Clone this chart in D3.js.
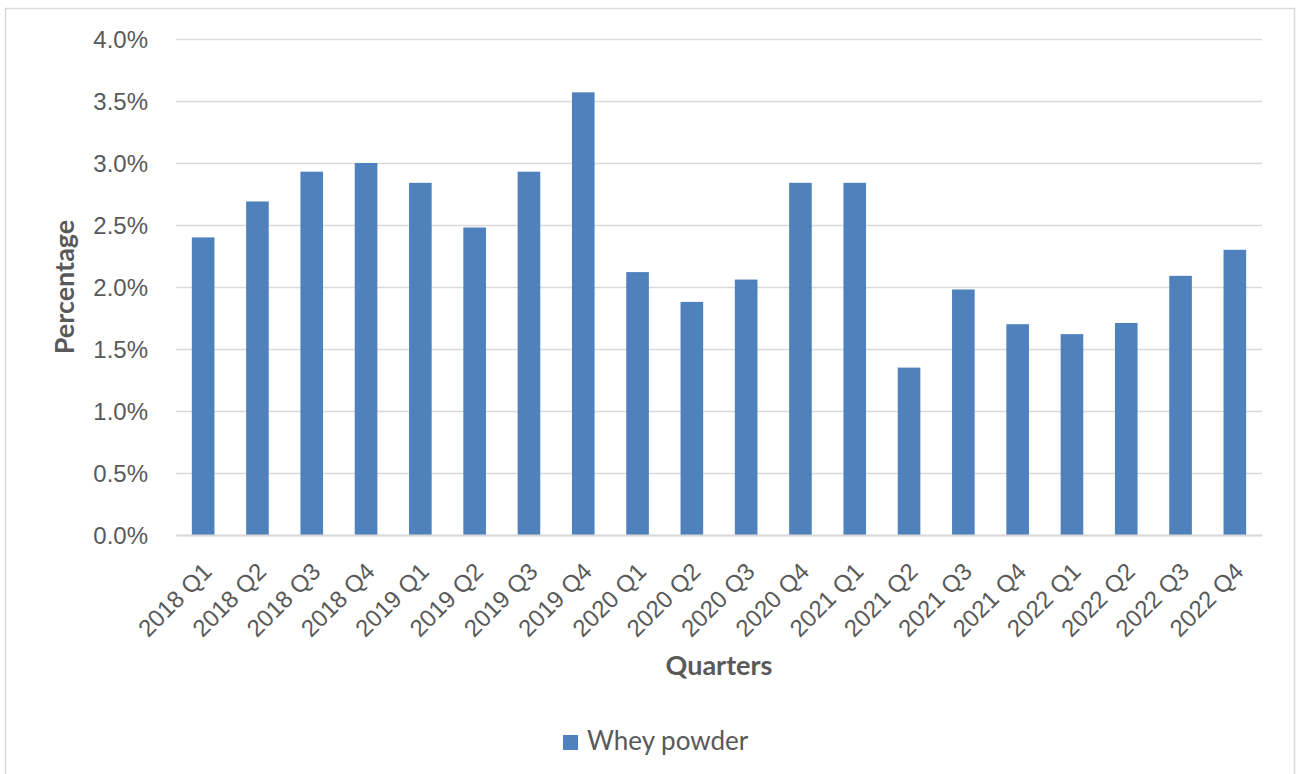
<!DOCTYPE html>
<html>
<head>
<meta charset="utf-8">
<script src="https://cdn.jsdelivr.net/npm/d3@7"></script>
<style>
  body { margin: 0; background: #fff; }
  svg { display: block; font-family: Lato, "Open Sans", sans-serif; }
  .grid line { stroke: #d9d9d9; stroke-width: 1.5; }
  .grid path { display: none; }
  .axis text { fill: #595959; font-size: 24px; }
  .axis line { display: none; }
</style>
</head>
<body>
<svg width="1296" height="774"></svg>
<script>
// quarters on the x axis
var quarters = ["2018 Q1", "2018 Q2", "2018 Q3", "2018 Q4",
                "2019 Q1", "2019 Q2", "2019 Q3", "2019 Q4",
                "2020 Q1", "2020 Q2", "2020 Q3", "2020 Q4",
                "2021 Q1", "2021 Q2", "2021 Q3", "2021 Q4",
                "2022 Q1", "2022 Q2", "2022 Q3", "2022 Q4"];

// whey powder share, in percent
var wheyPowder = [2.40, 2.69, 2.93, 3.00,
                  2.84, 2.48, 2.93, 3.57,
                  2.12, 1.88, 2.06, 2.84,
                  2.84, 1.35, 1.98, 1.70,
                  1.62, 1.71, 2.09, 2.30];

var yTicks = [0, 0.5, 1.0, 1.5, 2.0, 2.5, 3.0, 3.5, 4.0];
var seriesName = "Whey powder";

var svg = d3.select("svg"),
    margin = {top: 39, right: 34, bottom: 239, left: 176},
    width = svg.attr("width") - margin.left - margin.right,
    height = svg.attr("height") - margin.top - margin.bottom;

// chart border, the bottom edge runs off the picture
svg.append("rect")
    .attr("x", 5.5).attr("y", 8.5)
    .attr("width", 1289).attr("height", 780)
    .attr("fill", "#fff")
    .attr("stroke", "#d9d9d9")
    .attr("stroke-width", 1.5);

var g = svg.append("g").attr("transform", "translate(" + margin.left + "," + margin.top + ")");

var x = d3.scaleBand().domain(quarters).range([0, width]).padding(0);
var y = d3.scaleLinear().domain([0, 4]).range([height, 0]);

// gridlines
g.append("g")
    .attr("class", "grid")
    .call(d3.axisLeft(y).tickValues(yTicks).tickSize(-width).tickFormat(""));

// y tick labels
var yAxis = g.append("g")
    .attr("class", "axis")
    .call(d3.axisLeft(y).tickValues(yTicks).tickSize(0).tickPadding(28)
        .tickFormat(function(d) { return d.toFixed(1) + "%"; }));
yAxis.select(".domain").remove();
yAxis.selectAll("text").attr("dy", "0.36em");

// bars, Excel-style gap width of 140%
var barW = x.bandwidth() / 2.4;
g.selectAll(".bar")
    .data(wheyPowder)
    .enter().append("rect")
    .attr("class", "bar")
    .attr("x", function(d, i) { return x(quarters[i]) + (x.bandwidth() - barW) / 2; })
    .attr("y", function(d) { return y(d); })
    .attr("width", barW)
    .attr("height", function(d) { return height - y(d); })
    .attr("fill", "#4f81bd");

// x axis line + rotated labels
var xAxis = g.append("g")
    .attr("class", "axis")
    .attr("transform", "translate(0," + height + ")")
    .call(d3.axisBottom(x).tickSize(0).tickSizeOuter(0));
xAxis.select(".domain").attr("stroke", "#d9d9d9").attr("stroke-width", 2);
xAxis.selectAll("text")
    .attr("text-anchor", "end")
    .attr("dy", 0)
    .attr("transform", "translate(8,36) rotate(-45)");

// axis titles
g.append("text")
    .attr("transform", "rotate(-90)")
    .attr("x", -height / 2)
    .attr("y", -102)
    .attr("text-anchor", "middle")
    .style("font-weight", "bold")
    .style("font-size", "27px")
    .attr("fill", "#595959")
    .text("Percentage");

g.append("text")
    .attr("x", width / 2)
    .attr("y", 675 - margin.top)
    .attr("text-anchor", "middle")
    .style("font-weight", "bold")
    .style("font-size", "27px")
    .attr("fill", "#595959")
    .text("Quarters");

// legend
var legend = svg.append("g").attr("transform", "translate(563,735)");
legend.append("rect").attr("width", 15).attr("height", 15).attr("fill", "#4f81bd");
legend.append("text")
    .attr("x", 24).attr("y", 15)
    .style("font-size", "26px")
    .attr("fill", "#595959")
    .text(seriesName);
</script>
</body>
</html>
